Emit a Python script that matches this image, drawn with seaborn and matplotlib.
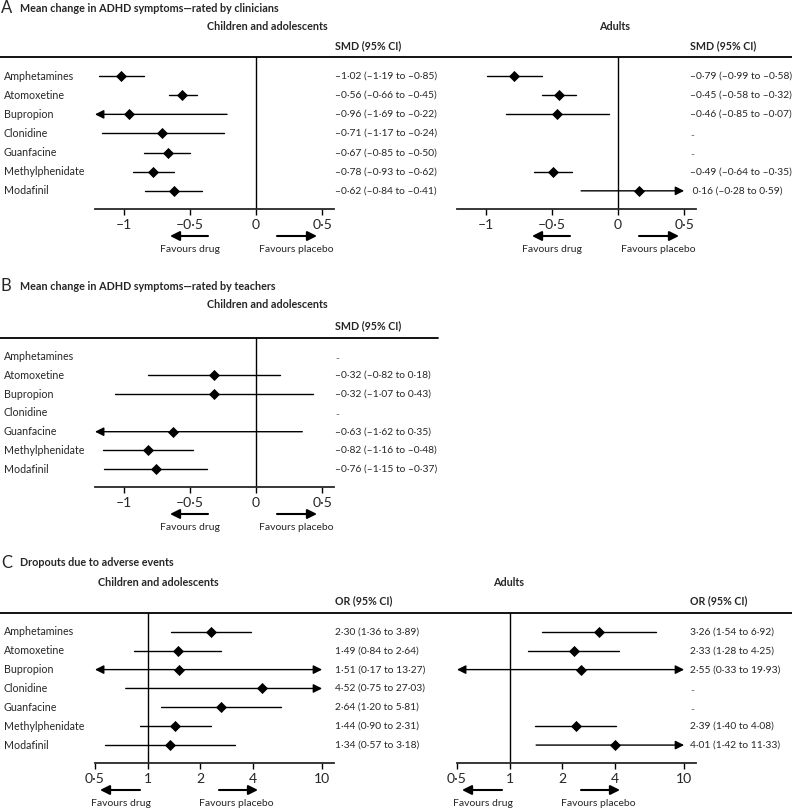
import numpy as np
import matplotlib
matplotlib.use("Agg")
import matplotlib.pyplot as plt
import matplotlib.transforms as mtransforms
from matplotlib.lines import Line2D
from matplotlib.patches import FancyArrowPatch
from matplotlib.ticker import FixedLocator, FixedFormatter, NullLocator
import seaborn as sns

nan = np.nan

# === DATA ===
drugs = ["Amphetamines", "Atomoxetine", "Bupropion", "Clonidine",
         "Guanfacine", "Methylphenidate", "Modafinil"]

# A - clinicians, SMD
a_child_est = [-1.02, -0.56, -0.96, -0.71, -0.67, -0.78, -0.62]
a_child_lo = [-1.19, -0.66, -1.69, -1.17, -0.85, -0.93, -0.84]
a_child_hi = [-0.85, -0.45, -0.22, -0.24, -0.50, -0.62, -0.41]
a_adult_est = [-0.79, -0.45, -0.46, nan, nan, -0.49, 0.16]
a_adult_lo = [-0.99, -0.58, -0.85, nan, nan, -0.64, -0.28]
a_adult_hi = [-0.58, -0.32, -0.07, nan, nan, -0.35, 0.59]

# B - teachers, SMD
b_child_est = [nan, -0.32, -0.32, nan, -0.63, -0.82, -0.76]
b_child_lo = [nan, -0.82, -1.07, nan, -1.62, -1.16, -1.15]
b_child_hi = [nan, 0.18, 0.43, nan, 0.35, -0.48, -0.37]

# C - dropouts, OR
c_child_est = [2.30, 1.49, 1.51, 4.52, 2.64, 1.44, 1.34]
c_child_lo = [1.36, 0.84, 0.17, 0.75, 1.20, 0.90, 0.57]
c_child_hi = [3.89, 2.64, 13.27, 27.03, 5.81, 2.31, 3.18]
c_adult_est = [3.26, 2.33, 2.55, nan, nan, 2.39, 4.01]
c_adult_lo = [1.54, 1.28, 0.33, nan, nan, 1.40, 1.42]
c_adult_hi = [6.92, 4.25, 19.93, nan, nan, 4.08, 11.33]

smd_ticks = [-1, -0.5, 0, 0.5]
smd_ticklabels = ["–1", "–0·5", "0", "0·5"]
or_ticks = [0.5, 1, 2, 4, 10]
or_ticklabels = ["0·5", "1", "2", "4", "10"]

# === STYLE ===
sns.set_theme(style="white")
plt.rcParams["font.family"] = ["Lato", "DejaVu Sans"]
plt.rcParams["axes.linewidth"] = 1.0

W, H = 792, 811
fig = plt.figure(figsize=(W / 100, H / 100), dpi=100)
fig.patch.set_facecolor("white")
renderer = fig.canvas.get_renderer()


def fit(s, target_px, **kw):
    # font size giving the text the pixel width seen in the reference
    t = fig.text(0, 0, s, fontsize=10, **kw)
    w = t.get_window_extent(renderer).width
    t.remove()
    return 10 * target_px / w


name_fs = fit("Methylphenidate", 80)
val_fs = fit("–1·02 (–1·19 to –0·85)", 103)
title_fs = fit("Mean change in ADHD symptoms—rated by clinicians", 256, fontweight="bold")
sub_fs = fit("Children and adolescents", 121, fontweight="bold")
hdr_fs = fit("SMD (95% CI)", 66, fontweight="bold")
fav_fs = fit("Favours drug", 60)
tick_fs = fit("–0·5", 28)


def fx(px):
    return px / W


def fy(py):
    return 1 - py / H


def fmt(v):
    return f"{v:.2f}".replace(".", "·").replace("-", "–")


def ftext(px, py, s, **kw):
    fig.text(fx(px), fy(py), s, **kw)


def hline(x0, x1, py, lw=1.3):
    fig.add_artist(Line2D([fx(x0), fx(x1)], [fy(py), fy(py)], color="black",
                          lw=lw, transform=fig.transFigure))


def farrow(x0, x1, py):
    fig.add_artist(FancyArrowPatch(
        (fx(x0), fy(py)), (fx(x1), fy(py)), transform=fig.transFigure,
        arrowstyle="-|>", mutation_scale=14, lw=1.5, color="black",
        shrinkA=0, shrinkB=0))


def forest(left, right, top, bottom, xlim, est, lo, hi, clip, log, val_x,
           show_names, ticks, ticklabels, fav):
    ax = fig.add_axes([fx(left), fy(bottom), fx(right - left), (bottom - top) / H])
    ax.set_facecolor("none")
    rows = np.arange(len(drugs))
    if log:
        ax.set_xscale("log")
    ax.set_xlim(*xlim)
    ax.set_ylim(6.95, -1.0)
    null = 1 if log else 0
    ax.axvline(null, color="black", lw=1.0)

    for y, e, l, h in zip(rows, est, lo, hi):
        if np.isnan(e):
            continue
        l2, h2 = max(l, clip[0]), min(h, clip[1])
        if l < clip[0] and h > clip[1]:
            style = "<|-|>"
        elif l < clip[0]:
            style = "<|-"
        elif h > clip[1]:
            style = "-|>"
        else:
            style = None
        if style is None:
            ax.plot([l2, h2], [y, y], color="black", lw=1.0)
        else:
            ax.annotate("", xy=(h2, y), xytext=(l2, y),
                        arrowprops=dict(arrowstyle=style, color="black", lw=1.0,
                                        mutation_scale=13, shrinkA=0, shrinkB=0))

    sns.scatterplot(x=est, y=rows, marker="D", color="black", s=32,
                    edgecolor="black", linewidth=0, ax=ax, zorder=5)

    for s in ["top", "left", "right"]:
        ax.spines[s].set_visible(False)
    ax.spines["bottom"].set_linewidth(1.3)
    ax.xaxis.set_major_locator(FixedLocator(ticks))
    ax.xaxis.set_major_formatter(FixedFormatter(ticklabels))
    ax.xaxis.set_minor_locator(NullLocator())
    ax.tick_params(axis="x", bottom=True, direction="out", length=4, width=1.0,
                   color="black", labelsize=tick_fs, pad=3)
    ax.set_yticks([])
    ax.grid(False)

    trans = mtransforms.blended_transform_factory(fig.transFigure, ax.transData)
    for y, name, e, l, h in zip(rows, drugs, est, lo, hi):
        if show_names:
            ax.text(fx(4), y, name, transform=trans, ha="left", va="center",
                    fontsize=name_fs)
        if np.isnan(e):
            lab = ".."
        else:
            pad = " " if (e >= 0 and not log) else ""
            lab = f"{pad}{fmt(e)} ({fmt(l)} to {fmt(h)})"
        ax.text(fx(val_x), y, lab, transform=trans, ha="left", va="center",
                fontsize=val_fs)

    # favours arrows
    ay = bottom + 27
    (d0, d1), (p0, p1), dc, pc = fav
    farrow(d0, d1, ay)
    farrow(p0, p1, ay)
    ftext(dc, ay + 14, "Favours drug", ha="center", va="center", fontsize=fav_fs)
    ftext(pc, ay + 14, "Favours placebo", ha="center", va="center", fontsize=fav_fs)
    return ax


smd_clip = (-1.22, 0.5)
or_clip = (0.5, 10)
smd_xlim = (-1.22, 0.59)
or_xlim = (0.5, 11.7)
adult_off = 362

# === PANEL A ===
ftext(1, 8, "A", fontsize=12, va="center", ha="left")
ftext(20, 8, "Mean change in ADHD symptoms—rated by clinicians", fontsize=title_fs,
      fontweight="bold", va="center", ha="left")
ftext(267, 27, "Children and adolescents", fontsize=sub_fs, fontweight="bold",
      ha="center", va="center")
ftext(615, 27, "Adults", fontsize=sub_fs, fontweight="bold", ha="center", va="center")
ftext(335, 46, "SMD (95% CI)", fontsize=hdr_fs, fontweight="bold", va="center")
ftext(690, 46, "SMD (95% CI)", fontsize=hdr_fs, fontweight="bold", va="center")
hline(0, W, 57)
forest(95, 334, 57, 209, smd_xlim, a_child_est, a_child_lo, a_child_hi,
       smd_clip, False, 335, True, smd_ticks, smd_ticklabels,
       ((208, 170), (277, 317), 190, 296))
forest(95 + adult_off, 334 + adult_off, 57, 209, smd_xlim, a_adult_est,
       a_adult_lo, a_adult_hi, smd_clip, False, 690, False, smd_ticks,
       smd_ticklabels,
       ((208 + adult_off, 170 + adult_off), (277 + adult_off, 317 + adult_off),
        190 + adult_off, 296 + adult_off))

# === PANEL B ===
ftext(1, 286, "B", fontsize=12, va="center", ha="left")
ftext(20, 286, "Mean change in ADHD symptoms—rated by teachers", fontsize=title_fs,
      fontweight="bold", va="center", ha="left")
ftext(267, 305, "Children and adolescents", fontsize=sub_fs, fontweight="bold",
      ha="center", va="center")
ftext(335, 326, "SMD (95% CI)", fontsize=hdr_fs, fontweight="bold", va="center")
hline(0, 438, 338)
forest(95, 334, 338, 487, smd_xlim, b_child_est, b_child_lo, b_child_hi,
       smd_clip, False, 335, True, smd_ticks, smd_ticklabels,
       ((208, 170), (277, 317), 190, 296))

# === PANEL C ===
ftext(1, 563, "C", fontsize=12, va="center", ha="left")
ftext(20, 563, "Dropouts due to adverse events", fontsize=title_fs,
      fontweight="bold", va="center", ha="left")
ftext(158, 582, "Children and adolescents", fontsize=sub_fs, fontweight="bold",
      ha="center", va="center")
ftext(509, 582, "Adults", fontsize=sub_fs, fontweight="bold", ha="center", va="center")
ftext(335, 601, "OR (95% CI)", fontsize=hdr_fs, fontweight="bold", va="center")
ftext(690, 601, "OR (95% CI)", fontsize=hdr_fs, fontweight="bold", va="center")
hline(0, W, 613)
forest(95, 334, 613, 763, or_xlim, c_child_est, c_child_lo, c_child_hi,
       or_clip, True, 335, True, or_ticks, or_ticklabels,
       ((140, 100), (219, 258), 121, 236))
forest(95 + adult_off, 334 + adult_off, 613, 763, or_xlim, c_adult_est,
       c_adult_lo, c_adult_hi, or_clip, True, 690, False, or_ticks,
       or_ticklabels,
       ((140 + adult_off, 100 + adult_off), (219 + adult_off, 258 + adult_off),
        121 + adult_off, 236 + adult_off))

fig.savefig("out.png", dpi=100, facecolor="white")
